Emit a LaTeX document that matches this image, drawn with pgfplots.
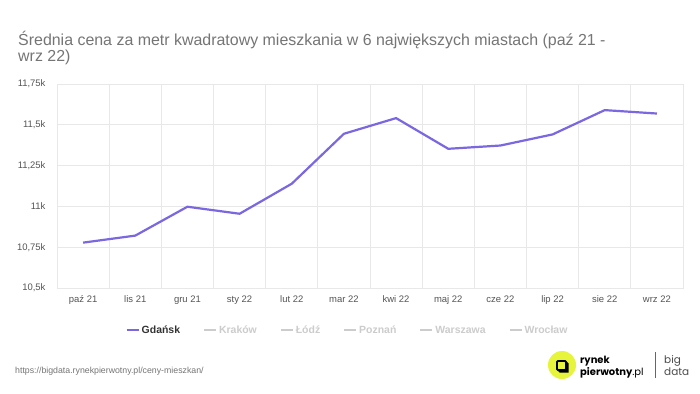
\documentclass[border=0pt]{standalone}
\usepackage{fontspec}
\setmainfont{Liberation Sans}
\newfontfamily\poppins{Poppins}
\usepackage{pgfplots}
\pgfplotsset{compat=1.18}
\definecolor{linec}{HTML}{7B68E0}
\definecolor{gridc}{HTML}{E8E8E8}
\definecolor{titlec}{HTML}{757575}
\definecolor{tickc}{HTML}{555555}
\definecolor{legoff}{HTML}{CCCCCC}
\definecolor{legon}{HTML}{333333}
\definecolor{logoy}{HTML}{E6F53C}
\begin{document}
\begin{tikzpicture}[x=1bp,y=1bp]
\path[use as bounding box, fill=white] (0,0) rectangle (700,393);
\node[anchor=base west, inner sep=0, font=\fontsize{16}{18}\selectfont, text=titlec] at (18,348) {Średnia cena za metr kwadratowy mieszkania w 6 największych miastach (paź 21 -};
\node[anchor=base west, inner sep=0, font=\fontsize{16}{18}\selectfont, text=titlec] at (18,332) {wrz 22)};
\begin{axis}[
  at={(57bp,105bp)}, anchor=south west,
  scale only axis, width=626bp, height=204bp,
  xmin=-0.5, xmax=11.5, ymin=10.5, ymax=11.75,
  xtick={0,...,11},
  xticklabels={paź 21,lis 21,gru 21,sty 22,lut 22,mar 22,kwi 22,maj 22,cze 22,lip 22,sie 22,wrz 22},
  minor xtick={0.5,1.5,...,10.5},
  ytick={10.5,10.75,11,11.25,11.5,11.75},
  yticklabels={{10,5k},{10,75k},{11k},{11,25k},{11,5k},{11,75k}},
  xminorgrids, ymajorgrids,
  grid style={gridc, line width=0.8bp},
  minor grid style={gridc, line width=0.8bp},
  axis line style={gridc, line width=0.8bp},
  major tick length=0, minor tick length=0,
  tick label style={font=\fontsize{9.5}{11}\selectfont, text=tickc},
  yticklabel style={xshift=-8bp},
  xticklabel style={yshift=-4bp},
  legend columns=-1,
  legend style={draw=none, fill=none, at={(axis description cs:0.464,-0.206)}, anchor=center,
    font=\bfseries\fontsize{10.5}{12}\selectfont,
    nodes={text height=8bp, text depth=2bp},
    /tikz/every even column/.append style={column sep=21bp}},
  legend image code/.code={\draw[#1] (0bp,0bp) -- (12bp,0bp);},
]
\addplot[linec, line width=2.2bp] coordinates {
(0,10.778) (1,10.821) (2,10.998) (3,10.955) (4,11.139) (5,11.445)
(6,11.541) (7,11.353) (8,11.373) (9,11.441) (10,11.590) (11,11.569)};
\addlegendentry{\textcolor{legon}{Gdańsk}}
\addlegendimage{legoff, line width=2bp}
\addlegendentry{\textcolor{legoff}{Kraków}}
\addlegendimage{legoff, line width=2bp}
\addlegendentry{\textcolor{legoff}{Łódź}}
\addlegendimage{legoff, line width=2bp}
\addlegendentry{\textcolor{legoff}{Poznań}}
\addlegendimage{legoff, line width=2bp}
\addlegendentry{\textcolor{legoff}{Warszawa}}
\addlegendimage{legoff, line width=2bp}
\addlegendentry{\textcolor{legoff}{Wrocław}}
\end{axis}
\node[anchor=base west, inner sep=0, font=\fontsize{8.8}{10}\selectfont, text=titlec] at (15,20) {https://bigdata.rynekpierwotny.pl/ceny-mieszkan/};
% logo
\fill[logoy] (562,28) circle (14);
\draw[black, line width=1.8bp, rounded corners=1bp] (557,23) rectangle (566,32);
\fill[black] (557,23) -- (559.5,20.5) -- (568.5,20.5) -- (568.5,29.5) -- (566,32) -- (566,23) -- cycle;
\node[anchor=base west, inner sep=0, font=\poppins\bfseries\fontsize{10}{12}\selectfont] at (580,30) {rynek};
\node[anchor=base west, inner sep=0, font=\poppins\fontsize{10}{12}\selectfont] at (580,18) {\textbf{pierwotny}.pl};
\draw[black!60, line width=0.6bp] (655,15) -- (655,41);
\node[anchor=base west, inner sep=0, font=\poppins\fontsize{10.5}{12}\selectfont, text=black!70] at (664,30) {big};
\node[anchor=base west, inner sep=0, font=\poppins\fontsize{10.5}{12}\selectfont, text=black!70] at (664,18) {data};
\end{tikzpicture}
\end{document}
